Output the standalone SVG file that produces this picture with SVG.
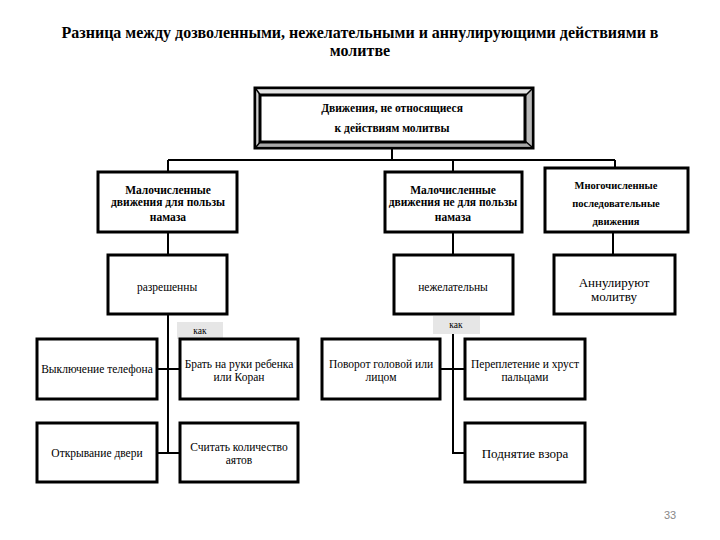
<svg xmlns="http://www.w3.org/2000/svg" width="720" height="540" viewBox="0 0 720 540" font-family="'Liberation Serif', 'Times New Roman', Tinos, 'DejaVu Serif', serif">
<style>
text{font-family:'Liberation Serif','Times New Roman',Tinos,'DejaVu Serif',serif;fill:#000;text-anchor:middle}
.title{font-size:16px;font-weight:bold}
.hb{font-size:11.5px;font-weight:bold}
.n{font-size:11.5px}
.m{font-size:13px}
.box{fill:#fff;stroke:#000;stroke-width:3}
.con{fill:none;stroke:#000;stroke-width:2}
.tag{fill:#e6e6e6;stroke:none}
.tagt{font-size:9.5px}
text.pg{font-family:'Liberation Sans',Arial,sans-serif;font-size:11px;fill:#888}
</style>
<rect width="720" height="540" fill="#fff"/>
<g id="title">
<text class="title" x="360" y="38">Разница между дозволенными, нежелательными и аннулирующими действиями в</text>
<text class="title" x="360" y="56">молитве</text>
</g>
<g id="connectors">
<path class="con" d="M392 148V160M168 160H615M168 160V172M453 160V172M615 160V168"/>
<path class="con" d="M168 232V255M453 232V255M613 232V255"/>
<path class="con" d="M168 314V453M157 369H180M157 453H180"/>
<path class="con" d="M453 334V453H465M440 369H465"/>
</g>
<g id="root">
<rect x="255" y="88" width="278" height="60" fill="#fff" stroke="#000" stroke-width="3"/>
<polygon points="256.5,89.5 531.5,89.5 525,95 260,95" fill="#e4e4e4"/>
<polygon points="256.5,89.5 260,95 260,142 256.5,146.5" fill="#d0d0d0"/>
<polygon points="256.5,146.5 260,142 525,142 531.5,146.5" fill="#a8a8a8"/>
<polygon points="531.5,89.5 525,95 525,142 531.5,146.5" fill="#b8b8b8"/>
<path d="M256 89L261 96M532 89L525 96M256 147L261 141M532 147L525 141" stroke="#000" stroke-width="1.5"/>
<rect x="260" y="95" width="265" height="47" class="box"/>
<text class="hb" x="392" y="112">Движения, не относящиеся</text>
<text class="hb" x="392" y="132">к действиям молитвы</text>
</g>
<g id="few-for">
<rect x="98" y="172" width="139" height="60" class="box"/>
<text class="hb" x="168" y="194">Малочисленные</text>
<text class="hb" x="168" y="206">движения для пользы</text>
<text class="hb" x="168" y="221">намаза</text>
</g>
<g id="few-not">
<rect x="385" y="172" width="137" height="60" class="box"/>
<text class="hb" x="453" y="194">Малочисленные</text>
<text class="hb" x="453" y="206">движения не для пользы</text>
<text class="hb" x="453" y="221">намаза</text>
</g>
<g id="many">
<rect x="545" y="168" width="143" height="64" class="box"/>
<text class="hb" x="616" y="189" style="font-size:10.5px">Многочисленные</text>
<text class="hb" x="616" y="207" style="font-size:10.5px">последовательные</text>
<text class="hb" x="616" y="225" style="font-size:10.5px">движения</text>
</g>
<g id="allowed">
<rect x="108" y="255" width="119" height="59" class="box"/>
<text class="n" x="167" y="291">разрешенны</text>
</g>
<g id="undesired">
<rect x="394" y="255" width="119" height="59" class="box"/>
<text class="n" x="453" y="291">нежелательны</text>
</g>
<g id="annul">
<rect x="554" y="255" width="121" height="59" class="box"/>
<text class="m" x="614" y="287">Аннулируют</text>
<text class="m" x="614" y="301">молитву</text>
</g>
<g id="tag1">
<rect x="177" y="322" width="46" height="17" class="tag"/>
<text class="tagt" x="200" y="334">как</text>
</g>
<g id="tag2">
<rect x="433" y="316" width="47" height="18" class="tag"/>
<text class="tagt" x="456" y="328">как</text>
</g>
<g id="phone">
<rect x="37" y="339" width="120" height="60" class="box"/>
<text class="n" x="97" y="373">Выключение телефона</text>
</g>
<g id="child">
<rect x="180" y="339" width="118" height="60" class="box"/>
<text class="n" x="239" y="368">Брать на руки ребенка</text>
<text class="n" x="239" y="381">или Коран</text>
</g>
<g id="door">
<rect x="37" y="423" width="120" height="59" class="box"/>
<text class="n" x="97" y="457">Открывание двери</text>
</g>
<g id="count">
<rect x="180" y="423" width="118" height="59" class="box"/>
<text class="n" x="239" y="451">Считать количество</text>
<text class="n" x="239" y="464">аятов</text>
</g>
<g id="turn">
<rect x="322" y="339" width="118" height="60" class="box"/>
<text class="n" x="381" y="368">Поворот головой или</text>
<text class="n" x="381" y="381">лицом</text>
</g>
<g id="fingers">
<rect x="465" y="339" width="120" height="60" class="box"/>
<text class="n" x="525" y="368">Переплетение и хруст</text>
<text class="n" x="525" y="381">пальцами</text>
</g>
<g id="gaze">
<rect x="465" y="423" width="120" height="59" class="box"/>
<text class="m" x="525" y="458">Поднятие взора</text>
</g>
<text class="pg" x="670" y="519">33</text>
</svg>
